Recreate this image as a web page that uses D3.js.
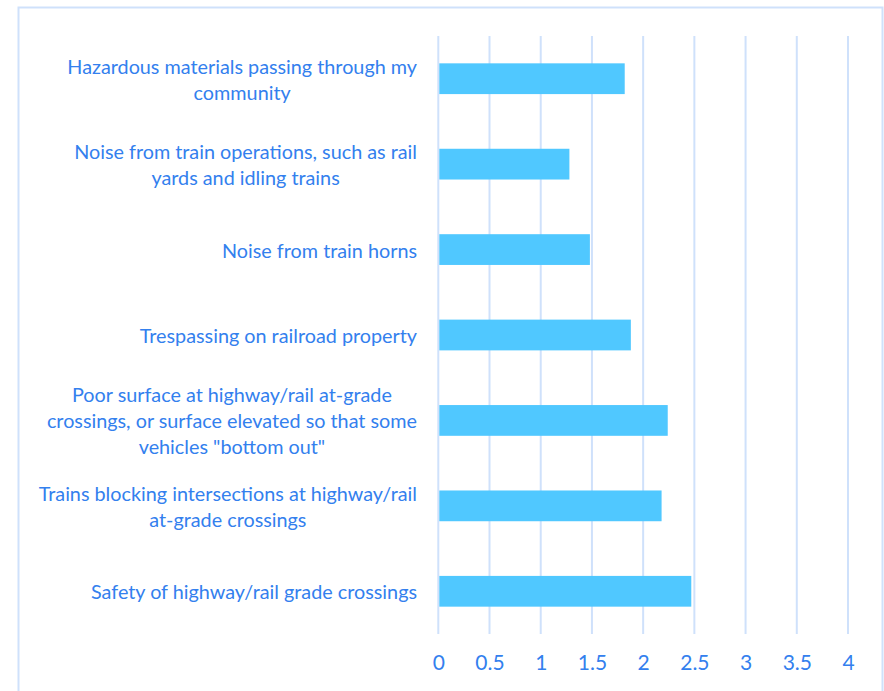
<!DOCTYPE html>
<html>
<head>
<meta charset="utf-8">
<script src="https://cdn.jsdelivr.net/npm/d3@7"></script>
<style>
  html, body { margin: 0; padding: 0; background: #ffffff; }
  svg { display: block; }
</style>
</head>
<body>
<svg id="chart" width="884" height="691"></svg>
<script>
// Concerns about rail operations, average rating per item
const categories = [
  ["Hazardous materials passing through my", "community"],
  ["Noise from train operations, such as rail", "yards and idling trains"],
  ["Noise from train horns"],
  ["Trespassing on railroad property"],
  ["Poor surface at highway/rail at-grade", "crossings, or surface elevated so that some", "vehicles \"bottom out\""],
  ["Trains blocking intersections at highway/rail", "at-grade crossings"],
  ["Safety of highway/rail grade crossings"]
];
const values = [1.82, 1.28, 1.48, 1.88, 2.24, 2.18, 2.47];
const tickValues = [0, 0.5, 1, 1.5, 2, 2.5, 3, 3.5, 4];
const tickLabels = ["0", "0.5", "1", "1.5", "2", "2.5", "3", "3.5", "4"];

const textColor = "#3380ee";
const barColor = "#50c8ff";
const gridColor = "#cfe1fb";
const fontFamily = "Lato, 'Open Sans', sans-serif";

const svg = d3.select("#chart");

// chart frame
svg.append("rect")
  .attr("x", 18.5).attr("y", 7.5)
  .attr("width", 864).attr("height", 700)
  .attr("fill", "none")
  .attr("stroke", gridColor)
  .attr("stroke-width", 2);

const plot = { left: 438.3, right: 848, top: 36, bottom: 634 };

const x = d3.scaleLinear().domain([0, 4]).range([plot.left, plot.right]);
const y = d3.scaleBand()
  .domain(d3.range(categories.length))
  .range([plot.top, plot.bottom])
  .paddingInner(0.64)
  .paddingOuter(0.32);

// vertical gridlines
svg.append("g")
  .selectAll("line")
  .data(tickValues)
  .join("line")
  .attr("x1", d => x(d)).attr("x2", d => x(d))
  .attr("y1", plot.top).attr("y2", plot.bottom)
  .attr("stroke", gridColor)
  .attr("stroke-width", 2);

// bars
svg.append("g")
  .selectAll("rect")
  .data(values)
  .join("rect")
  .attr("x", x(0) + 1)
  .attr("y", (d, i) => y(i))
  .attr("width", d => x(d) - x(0) - 1)
  .attr("height", y.bandwidth())
  .attr("fill", barColor);

// x axis tick labels
const xAxis = d3.axisBottom(x)
  .tickValues(tickValues)
  .tickFormat((d, i) => tickLabels[i])
  .tickSize(0)
  .tickPadding(0);
const gx = svg.append("g")
  .attr("transform", `translate(0, ${plot.bottom + 21})`)
  .call(xAxis);
gx.select(".domain").remove();
gx.selectAll("text")
  .attr("fill", textColor)
  .style("font-family", fontFamily)
  .style("font-size", "21px");

// category labels: lines centred within a block that ends at the label edge
const labelRight = 417;
const lineHeight = 26;
const labels = svg.append("g")
  .style("font-family", fontFamily)
  .style("font-size", "19.8px")
  .attr("fill", textColor);

categories.forEach((lines, i) => {
  const cy = y(i) + y.bandwidth() / 2;
  const t = labels.append("text")
    .attr("text-anchor", "middle")
    .attr("dominant-baseline", "central");
  const spans = lines.map((line, j) =>
    t.append("tspan")
      .attr("y", cy + (j - (lines.length - 1) / 2) * lineHeight)
      .text(line)
  );
  const w = d3.max(spans, s => s.node().getComputedTextLength());
  spans.forEach(s => s.attr("x", labelRight - w / 2));
});
</script>
</body>
</html>
